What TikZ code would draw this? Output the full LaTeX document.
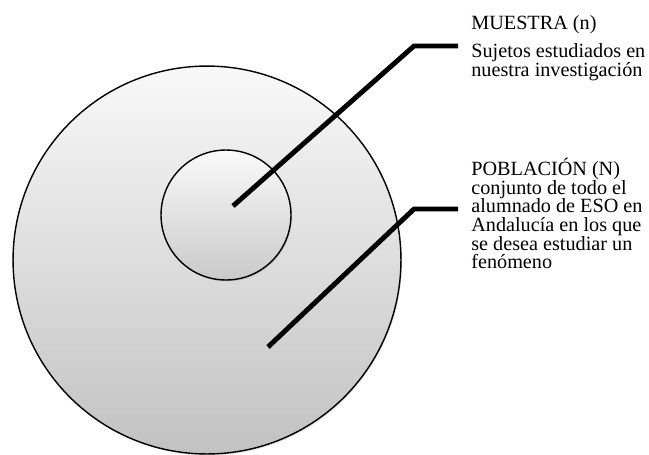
\documentclass[tikz,border=0pt]{standalone}
\usepackage{fontspec}
\setmainfont{Liberation Serif}
\usetikzlibrary{positioning, shadows}

\begin{document}
\begin{tikzpicture}[
    x=0.02cm, y=-0.02cm,
    conjunto/.style={draw, circle, line width=0.8pt, inner sep=0pt, top color=gray!5, bottom color=gray!48, drop shadow={opacity=0.25, shadow xshift=0.6pt, shadow yshift=-0.8pt}},
    etiqueta/.style={align=left, inner sep=0pt, anchor=north west, font=\fontsize{11.5}{10.6}\selectfont},
    guia/.style={line width=2.8pt, line join=miter}
]
\useasboundingbox (0,0) rectangle (649,454);

% Conjuntos
\node (poblacion) [conjunto, minimum size=7.76cm] at (207,260) {};
\node (muestra) [conjunto, minimum size=2.6cm, top color=gray!4, bottom color=gray!42] at (226,215) {};

% Textos
\node (txtmuestra) [etiqueta] at (471,15) {MUESTRA (n)\\[0.2cm]Sujetos estudiados en\\nuestra investigación};
\node (txtpoblacion) [etiqueta] at (471,158) {POBLACIÓN (N)\\conjunto de todo el\\alumnado de ESO en\\Andalucía en los que\\se desea estudiar un\\fenómeno};

% Lineas
\coordinate (m1) at (233,206);
\coordinate (m2) at (414,46);
\coordinate (m3) at (458,46);
\coordinate (p1) at (268,347);
\coordinate (p2) at (414,209);
\coordinate (p3) at (458,209);
\draw [guia] (m1) -- (m2) -- (m3);
\draw [guia] (p1) -- (p2) -- (p3);

\end{tikzpicture}
\end{document}
